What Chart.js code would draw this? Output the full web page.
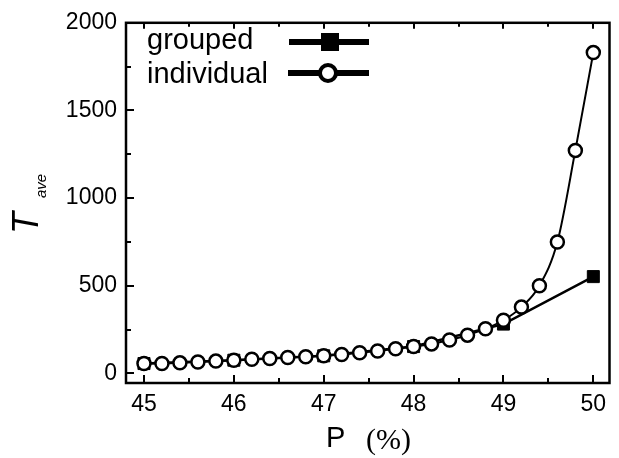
<!DOCTYPE html>
<html>
<head>
<meta charset="utf-8">
<script src="https://cdn.jsdelivr.net/npm/chart.js@4.4.1/dist/chart.umd.min.js"></script>
<style>
html,body{margin:0;padding:0;background:#fff;}
#wrap{position:relative;width:619px;height:458px;}
canvas{display:block;}
</style>
</head>
<body>
<div id="wrap"><canvas id="c" width="619" height="458"></canvas></div>
<script>
// ---- data ----
const xIndividual = [45.0,45.2,45.4,45.6,45.8,46.0,46.2,46.4,46.6,46.8,47.0,47.2,47.4,47.6,47.8,48.0,48.2,48.4,48.6,48.8,49.0,49.2,49.4,49.6,49.8,50.0];
const yIndividual = [56,56,60,65,70,75,80,85,90,95,100,108,118,128,140,153,168,190,218,255,303,378,500,749,1272,1830];
const xGrouped = [45,46,47,48,49,50];
const yGrouped = [56,75,100,153,281,552];
const xTickValues = [45,46,47,48,49,50];
const yTickValues = [0,500,1000,1500,2000];
const xMinorTicks = [45.5,46.5,47.5,48.5,49.5];
const yMinorTicks = [250,750,1250,1750];
const seriesNames = ['grouped','individual'];

const SANS = '"Liberation Sans", Arial, Helvetica, sans-serif';

const framePlugin = {
  id: 'frame',
  afterDatasetsDraw(chart) {
    const ctx = chart.ctx, a = chart.chartArea;
    const xs = chart.scales.x, ys = chart.scales.y;
    ctx.save();
    ctx.strokeStyle = '#000';
    ctx.lineCap = 'butt';
    // inward ticks
    ctx.lineWidth = 2;
    ctx.beginPath();
    xTickValues.forEach(v => { const p = Math.round(xs.getPixelForValue(v)); ctx.moveTo(p, a.bottom); ctx.lineTo(p, a.bottom - 8); ctx.moveTo(p, a.top); ctx.lineTo(p, a.top + 6); });
    xMinorTicks.forEach(v => { const p = Math.round(xs.getPixelForValue(v)); ctx.moveTo(p, a.bottom); ctx.lineTo(p, a.bottom - 5); ctx.moveTo(p, a.top); ctx.lineTo(p, a.top + 4); });
    yTickValues.forEach(v => { const p = Math.round(ys.getPixelForValue(v)); ctx.moveTo(a.left, p); ctx.lineTo(a.left + 8, p); });
    yMinorTicks.forEach(v => { const p = Math.round(ys.getPixelForValue(v)); ctx.moveTo(a.left, p); ctx.lineTo(a.left + 5, p); });
    ctx.stroke();
    // frame
    ctx.lineWidth = 2.5;
    ctx.strokeRect(a.left, a.top, a.right - a.left, a.bottom - a.top);

    // legend
    ctx.fillStyle = '#000';
    ctx.font = '29px ' + SANS;
    ctx.textBaseline = 'alphabetic';
    ctx.textAlign = 'left';
    ctx.fillText(seriesNames[0], 147, 49);
    ctx.fillText(seriesNames[1], 147, 83);
    ctx.lineWidth = 6;
    ctx.beginPath();
    ctx.moveTo(289, 42); ctx.lineTo(369, 42);
    ctx.moveTo(288, 73); ctx.lineTo(369, 73);
    ctx.stroke();
    ctx.fillRect(321, 33, 18, 18);
    ctx.beginPath();
    ctx.arc(328, 73, 8, 0, Math.PI * 2);
    ctx.fillStyle = '#fff'; ctx.fill();
    ctx.lineWidth = 4; ctx.strokeStyle = '#000'; ctx.stroke();

    // x title
    ctx.fillStyle = '#000';
    ctx.font = '29px ' + SANS;
    ctx.fillText('P', 326, 447);
    ctx.font = '30px "Liberation Serif", "Times New Roman", serif';
    ctx.fillText('(%)', 366, 449);

    // y title
    ctx.save();
    ctx.translate(38, 234);
    ctx.rotate(-Math.PI / 2);
    ctx.font = 'italic 36px ' + SANS;
    ctx.fillText('T', 0, 0);
    ctx.font = 'italic 15px ' + SANS;
    ctx.fillText('ave', 36, 8);
    ctx.restore();
    ctx.restore();
  }
};

new Chart(document.getElementById('c'), {
  type: 'line',
  data: {
    datasets: [
      {
        label: seriesNames[1],
        data: xIndividual.map((x, i) => ({x: x, y: yIndividual[i]})),
        borderColor: '#000', borderWidth: 2,
        pointStyle: 'circle', pointRadius: 6.5, pointBorderWidth: 2.5,
        pointBackgroundColor: '#fff', pointBorderColor: '#000',
        cubicInterpolationMode: 'monotone', tension: 0.4,
        order: 0
      },
      {
        label: seriesNames[0],
        data: xGrouped.map((x, i) => ({x: x, y: yGrouped[i]})),
        borderColor: '#000', borderWidth: 2.5,
        pointStyle: 'rect', pointRadius: 8.5, pointBorderWidth: 1,
        pointBackgroundColor: '#000', pointBorderColor: '#000',
        tension: 0,
        order: 1
      }
    ]
  },
  options: {
    responsive: false,
    animation: false,
    events: [],
    layout: { padding: { top: 19, right: 5, left: 0, bottom: 0 } },
    plugins: { legend: { display: false }, tooltip: { enabled: false }, title: { display: false } },
    scales: {
      x: {
        type: 'linear', min: 44.8, max: 50.18,
        grid: { display: false, drawTicks: false },
        border: { display: false },
        afterBuildTicks: s => { s.ticks = xTickValues.map(v => ({value: v})); },
        afterFit: s => { s.height = 75; },
        ticks: { color: '#000', font: { size: 23, family: SANS }, padding: 8, maxRotation: 0, autoSkip: false,
                 callback: v => String(v) }
      },
      y: {
        type: 'linear', min: -55, max: 2000,
        grid: { display: false, drawTicks: false },
        border: { display: false },
        afterBuildTicks: s => { s.ticks = yTickValues.map(v => ({value: v})); },
        afterFit: s => { s.width = 126; },
        ticks: { color: '#000', font: { size: 23, family: SANS }, padding: 9, autoSkip: false,
                 callback: v => String(v) }
      }
    }
  },
  plugins: [framePlugin]
});
</script>
</body>
</html>
